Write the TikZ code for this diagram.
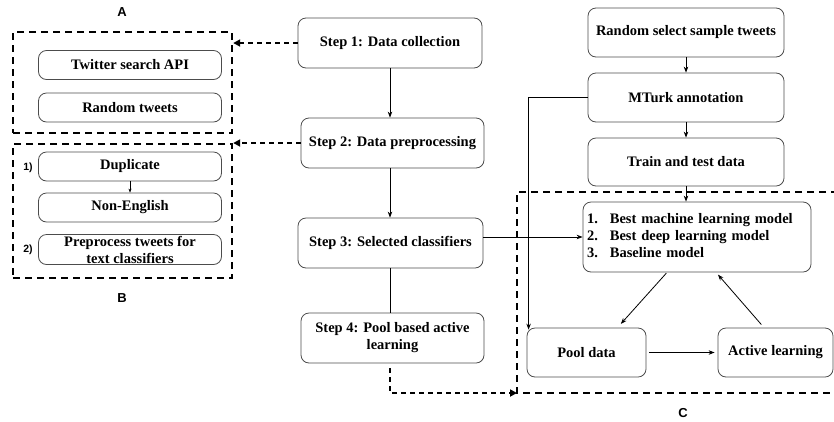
\documentclass[tikz,border=0pt]{standalone}
\usepackage{fontspec}
\setmainfont{Liberation Serif}
\newfontfamily\sanslabel{Liberation Sans}
\usetikzlibrary{arrows.meta,calc,positioning}

\begin{document}
\begin{tikzpicture}[x=1pt,y=-1pt,
    stepbox/.style={draw=black!70,line width=0.8pt,rounded corners=8pt,inner sep=0pt,
      font=\fontsize{14.5}{17}\selectfont\bfseries,align=center},
    dashframe/.style={draw=black,line width=2.4pt,dash pattern=on 7pt off 5pt,inner sep=0pt},
    link/.style={line width=0.8pt,-{Stealth[length=6pt,width=4.5pt]}},
    dashlink/.style={line width=1.8pt,dash pattern=on 5pt off 4pt,-{Triangle[length=7pt,width=7pt]}},
    tag/.style={font=\sanslabel\bfseries\fontsize{13}{15}\selectfont},
    numtag/.style={font=\sanslabel\bfseries\fontsize{10.5}{12}\selectfont}]
  \useasboundingbox (0,0) rectangle (834,421);

  % Drawing frames A, B, C
  \node [dashframe,minimum width=219pt,minimum height=101pt] (frameA) at (122.5,82.5) {};%
  \node [dashframe,minimum width=219pt,minimum height=134pt] (frameB) at (122.5,211) {};%
  \coordinate (frameCnw) at (517,192);%
  \coordinate (frameCsw) at (517,393);%
  \draw [dashframe] (850,192) -- (frameCnw) -- (frameCsw) -- (850,393);%

  % Marking frames
  \node [tag] (tagA) at (122,12) {A};%
  \node [tag] (tagB) at (122,298) {B};%
  \node [tag] (tagC) at (683,413) {C};%

  % Drawing boxes in frame A
  \node [stepbox,minimum width=183pt,minimum height=29pt] (api) at (130,65) {Twitter search API};%
  \node [stepbox,minimum width=183pt,minimum height=29pt] (rndtw) at (130,107.5) {Random tweets};%

  % Drawing boxes in frame B
  \node [stepbox,minimum width=183pt,minimum height=29pt] (dup) at (130,166.5) {Duplicate};%
  \node [stepbox,minimum width=183pt,minimum height=29pt] (noneng) at (130,207.5) {Non-English};%
  \node [stepbox,minimum width=183pt,minimum height=30pt] (prep) at (130,249.5) {Preprocess tweets for\\text classifiers};%
  \node [numtag] (one) at (28,168) {1)};%
  \node [numtag] (two) at (28,250) {2)};%
  \draw [line width=0.6pt,-{Stealth[length=4pt,width=3pt]}] (dup) -- (noneng);%

  % Drawing steps
  \node [stepbox,minimum width=184pt,minimum height=50pt] (step1) at (390,43) {Step 1: Data collection};%
  \node [stepbox,minimum width=183pt,minimum height=50pt] (step2) at (392.5,143) {Step 2: Data preprocessing};%
  \node [stepbox,minimum width=185pt,minimum height=50pt] (step3) at (390.5,243) {Step 3: Selected classifiers};%
  \node [stepbox,minimum width=183pt,minimum height=50pt] (step4) at (392.5,338) {Step 4: Pool based active\\learning};%

  % Drawing step connectors
  \draw [link] (step1.south) -- (step1.south |- step2.north);%
  \draw [link] (step1.south |- step2.south) -- (step1.south |- step3.north);%
  \draw [line width=0.8pt] (step1.south |- step3.south) -- (step1.south |- step4.north);%
  \draw [dashlink] (step1.west) -- (step1.west -| frameA.east);%
  \draw [dashlink] (step2.west) -- (step2.west -| frameB.east);%

  % Drawing annotation column
  \node [stepbox,minimum width=196pt,minimum height=49pt] (sample) at (686,32.5) {Random select sample tweets};%
  \node [stepbox,minimum width=196pt,minimum height=49pt] (mturk) at (686,97.5) {MTurk annotation};%
  \node [stepbox,minimum width=196pt,minimum height=48pt] (traintest) at (686,162) {Train and test data};%
  \node [stepbox,minimum width=228pt,minimum height=70pt,text width=220pt,align=left] (models) at (697,237)
    {\begin{tabular}{@{}l@{\hspace{12pt}}l@{}}1. & Best machine learning model\\2. & Best deep learning model\\3. & Baseline model\end{tabular}};%
  \node [stepbox,minimum width=119pt,minimum height=49pt] (pool) at (586.5,352.5) {Pool data};%
  \node [stepbox,minimum width=115pt,minimum height=49pt] (active) at (775.5,352.5) {Active learning};%

  % Drawing annotation connectors
  \draw [link] (sample) -- (mturk);%
  \draw [link] (mturk) -- (traintest);%
  \draw [link] (traintest) -- (traintest |- models.north);%
  \draw [link] (mturk.west) -| ([xshift=2pt,yshift=-2pt]pool.north west);%
  \draw [link] (step3.east |- models.west) -- (models.west);%

  % Drawing active learning loop
  \draw [link,shorten <=1pt,shorten >=5pt] ([xshift=-30pt]models.south) -- ([xshift=31pt]pool.north);%
  \draw [link,shorten <=4pt,shorten >=3pt] ([xshift=-11.5pt]active.north) -- ([xshift=19pt]models.south);%
  \draw [link,shorten <=3pt,shorten >=3pt] (pool.east) -- (active.west);%

  % Drawing dashed link from step 4
  \draw [dashlink] ([xshift=-2.5pt,yshift=-5pt]step4.south) |- (frameCsw);%
\end{tikzpicture}
\end{document}
